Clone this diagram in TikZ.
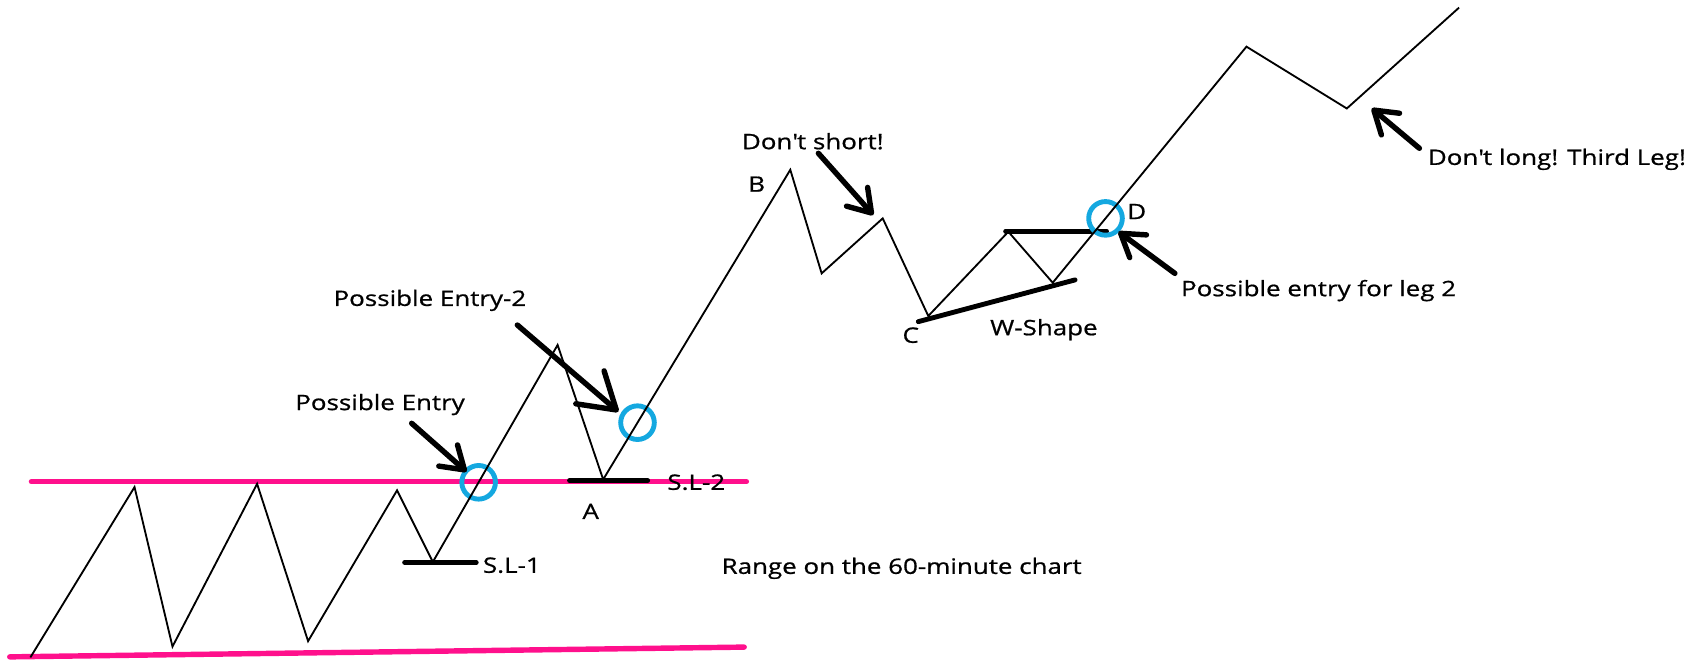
\documentclass[tikz,border=0pt]{standalone}
\usepackage{fontspec}
\setmainfont{Open Sans}[FakeStretch=1.22,FakeBold=0.8]
\usetikzlibrary{arrows.meta,calc}
\definecolor{rangepink}{RGB}{255,16,140}
\definecolor{entrycyan}{RGB}{20,168,224}
\begin{document}
\begin{tikzpicture}[x=1pt,y=-1pt,
  price/.style={line width=1.7pt, line join=miter},
  rangeline/.style={draw=rangepink, line width=5pt, line cap=round},
  stopbar/.style={line width=4.5pt, line cap=round},
  callout/.style={line width=5pt, line cap=round, -{Straight Barb[length=20pt,width=26pt,round]}},
  bigcallout/.style={line width=5pt, line cap=round, -{Straight Barb[length=32pt,width=40pt,round]}},
  entryring/.style={draw=entrycyan, line width=4.5pt, circle, minimum size=31pt, inner sep=0pt},
  lbl/.style={inner sep=0pt, font=\fontsize{19.6}{24}\selectfont, anchor=base west},
  letter/.style={inner sep=0pt, font=\fontsize{19.6}{24}\selectfont, anchor=base}
]
\useasboundingbox (0,0) rectangle (1568,608);

% range lines
\coordinate (ru1) at (29,444);
\coordinate (ru2) at (688,444);
\coordinate (rl1) at (9,605.5);
\coordinate (rl2) at (686,596.5);
\draw[rangeline] (ru1) -- (ru2);
\draw[rangeline] (rl1) -- (rl2);

% price path points
\coordinate (p0) at (28,606);
\coordinate (p1) at (124,449);
\coordinate (p2) at (159,596);
\coordinate (p3) at (237,446);
\coordinate (p4) at (284,591);
\coordinate (p5) at (366,452);
\coordinate (p6) at (399,518);
\coordinate (p7) at (514,318);
\coordinate (p8) at (556,442);
\coordinate (p9) at (728.5,156.5);
\coordinate (p10) at (757.4,252);
\coordinate (p11) at (813.7,201.3);
\coordinate (p12) at (855.7,291.3);
\coordinate (p13) at (929.5,213.6);
\coordinate (p14) at (970.4,260.6);
\coordinate (p15) at (1149,43);
\coordinate (p16) at (1241.5,100);
\coordinate (p17) at (1345,7);

% stop bars and W-shape lines
\coordinate (sl1a) at (373,518.5);
\coordinate (sl1b) at (439,518.5);
\coordinate (sl2a) at (525,443);
\coordinate (sl2b) at (597,443);
\coordinate (wa) at (846.5,296.5);
\coordinate (wb) at (991,258);
\coordinate (ha) at (927,213);
\coordinate (hb) at (1020,213);
\draw[stopbar] (sl1a) -- (sl1b);
\draw[stopbar] (sl2a) -- (sl2b);
\draw[stopbar] (wa) -- (wb);
\draw[stopbar] (ha) -- (hb);

% entry rings
\node[entryring] (ring1) at ($(p6)!0.367!(p7)$) {};
\node[entryring] (ring2) at ($(p8)!0.1835!(p9)$) {};
\node[entryring] (ring3) at ($(p14)!0.2725!(p15)$) {};

% price path
\draw[price] (p0) -- (p1) -- (p2) -- (p3) -- (p4) -- (p5) -- (p6) -- (p7) -- (p8)
  -- (p9) -- (p10) -- (p11) -- (p12) -- (p13) -- (p14) -- (p15) -- (p16) -- (p17);

% callout arrows
\coordinate (t1) at (379.5,390.2);
\coordinate (h1) at (430,434.8);
\coordinate (t2) at (476.9,299.6);
\coordinate (h2) at (570,379.5);
\coordinate (t3) at (754.4,141.3);
\coordinate (h3) at (805,198.2);
\coordinate (t4) at (1083,252);
\coordinate (h4) at (1031,213.6);
\coordinate (t5) at (1308.4,136.7);
\coordinate (h5) at (1264.5,99.9);
\draw[callout] (t1) -- (h1);
\draw[bigcallout] (t2) -- (h2);
\draw[callout] (t3) -- (h3);
\draw[callout] (t4) -- (h4);
\draw[callout] (t5) -- (h5);

% labels
\node[lbl] (lentry) at (272,378) {Possible Entry};
\node[lbl] (lentry2) at (307.3,282) {Possible Entry-2};
\node[lbl] (lsl1) at (445,528) {S.L-1};
\node[lbl] (lsl2) at (615,451.5) {S.L-2};
\node[letter] (la) at (544.5,478.4) {A};
\node[lbl] (lrange) at (665,529) {Range on the 60-minute chart};
\node[letter] (lb) at (697.5,176.7) {B};
\node[lbl] (lshort) at (683.7,137.5) {Don\textquotesingle t short!};
\node[letter] (lc) at (839.5,316) {C};
\node[lbl] (lw) at (912.6,309) {W-Shape};
\node[letter] (ld) at (1047.8,202) {D};
\node[lbl] (lleg) at (1088.5,273) {Possible entry for leg 2};
\node[lbl] (llong) at (1316,152) {Don\textquotesingle t long! Third Leg!};
\end{tikzpicture}
\end{document}
